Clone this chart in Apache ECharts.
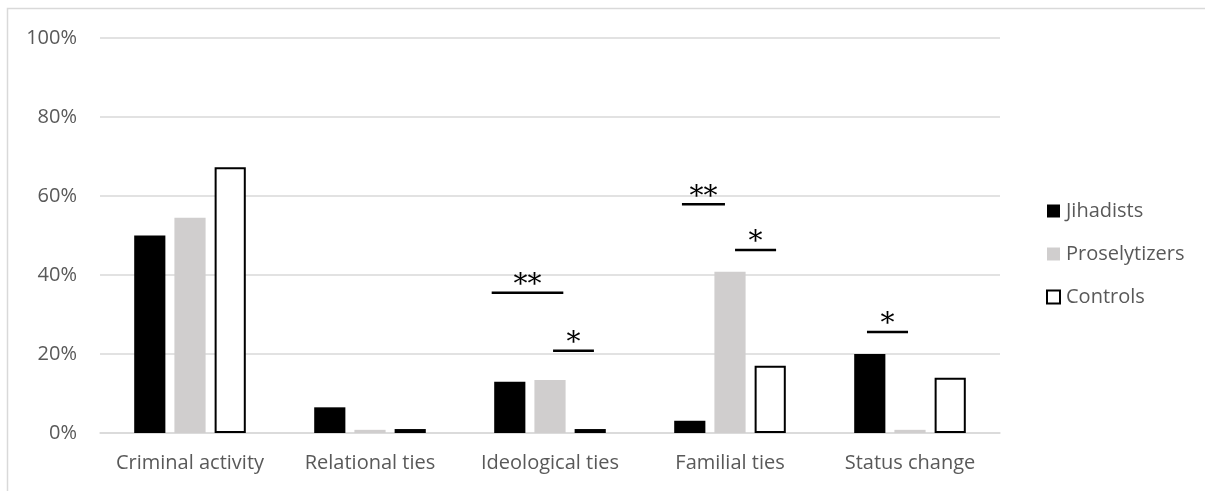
<!DOCTYPE html>
<html>
<head>
<meta charset="utf-8">
<script src="https://cdn.jsdelivr.net/npm/echarts@6/dist/echarts.min.js"></script>
<style>html,body{margin:0;padding:0;background:#fff}#c{width:1205px;height:491px}</style>
</head>
<body>
<div id="c"></div>
<script>
var categories = ['Criminal activity', 'Relational ties', 'Ideological ties', 'Familial ties', 'Status change'];
var jihadists = [50, 6.5, 13, 3.1, 20];
var proselytizers = [54.5, 0.8, 13.4, 40.8, 0.8];
var controls = [67.3, 1, 1, 17, 14];
var yTicks = [0, 20, 40, 60, 80, 100];
// significance annotations: [category index, level (%), start, end (fraction of band from centre), label]
var sigCategory = [2, 2, 3, 3, 4];
var sigLevel = [35.5, 20.8, 57.9, 46.3, 25.6];
var sigStart = [-0.324, 0.017, -0.267, 0.028, -0.239];
var sigEnd = [0.074, 0.244, -0.028, 0.256, -0.011];
var sigLabel = ['**', '*', '**', '*', '*'];

var sigData = sigCategory.map(function (c, i) { return [c, sigLevel[i], sigStart[i], sigEnd[i]]; });
var font = '"Open Sans", sans-serif';
var chart = echarts.init(document.getElementById('c'));
chart.setOption({
  animation: false,
  graphic: [{ type: 'rect', shape: { x: 7.5, y: 8.5, width: 1300, height: 600 }, style: { fill: 'none', stroke: '#d9d9d9', lineWidth: 1.5 }, z: -1 }],
  grid: { left: 100, right: 205, top: 38, bottom: 58 },
  legend: {
    orient: 'vertical', left: 1041, top: 196, itemWidth: 13, itemHeight: 13, itemGap: 23, icon: 'rect',
    textStyle: { color: '#595959', fontFamily: font, fontSize: 20, padding: [0, 0, 0, 1] },
    data: [
      { name: 'Jihadists', itemStyle: { color: '#000', borderWidth: 0 } },
      { name: 'Proselytizers', itemStyle: { color: '#d0cece', borderWidth: 0 } },
      { name: 'Controls', itemStyle: { color: '#fff', borderColor: '#000', borderWidth: 2 } }
    ]
  },
  xAxis: {
    type: 'category', data: categories,
    axisLine: { lineStyle: { color: '#d9d9d9', width: 1.5 } }, axisTick: { show: false },
    axisLabel: { color: '#595959', fontFamily: font, fontSize: 20, margin: 20, interval: 0, hideOverlap: false }
  },
  yAxis: {
    type: 'value', min: 0, max: 100, interval: 20,
    axisLabel: { color: '#595959', fontFamily: font, fontSize: 20, margin: 23, formatter: function (v) { return yTicks.indexOf(v) >= 0 ? v + '%' : ''; } },
    splitLine: { lineStyle: { color: '#d9d9d9', width: 1.5 } }
  },
  series: [
    { name: 'Jihadists', type: 'bar', data: jihadists, barGap: '29%', barCategoryGap: '38%', itemStyle: { color: '#000' } },
    { name: 'Proselytizers', type: 'bar', data: proselytizers, itemStyle: { color: '#d0cece' } },
    { name: 'Controls', type: 'bar', data: controls, itemStyle: { color: '#fff', borderColor: '#000', borderWidth: 2 } },
    {
      type: 'custom', data: sigData, z: 10,
      renderItem: function (params, api) {
        var p = api.coord([api.value(0), api.value(1)]);
        var band = api.size([1, 0])[0];
        var x0 = p[0] + api.value(2) * band, x1 = p[0] + api.value(3) * band;
        return { type: 'group', children: [
          { type: 'line', shape: { x1: x0, y1: p[1], x2: x1, y2: p[1] }, style: { stroke: '#000', lineWidth: 2.5 } },
          { type: 'text', style: { text: sigLabel[params.dataIndex], x: (x0 + x1) / 2, y: p[1] + 7, align: 'center', verticalAlign: 'bottom', fill: '#000', font: '28px "DejaVu Serif", serif' } }
        ] };
      }
    }
  ]
});
</script>
</body>
</html>
